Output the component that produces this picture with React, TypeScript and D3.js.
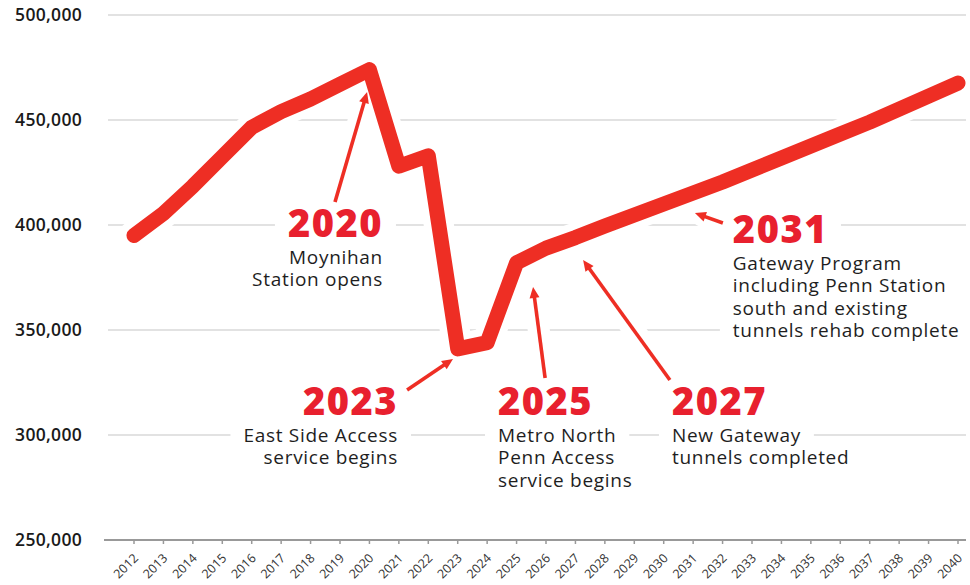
import React from 'react';
import * as d3 from 'd3';

// ---- data ----
const years = [2012, 2013, 2014, 2015, 2016, 2017, 2018, 2019, 2020, 2021, 2022, 2023, 2024, 2025, 2026, 2027, 2028, 2029, 2030, 2031, 2032, 2033, 2034, 2035, 2036, 2037, 2038, 2039, 2040];
const ridership = [395000, 405500, 418500, 432500, 446500, 454000, 460000, 467000, 474000, 428000, 433000, 341000, 344000, 382000, 389000, 394000, 399500, 404800, 410000, 415200, 420500, 426200, 431900, 437600, 443300, 449000, 455200, 461400, 467600];
const yTicks = [250000, 300000, 350000, 400000, 450000, 500000];

const annoTitles = ['2020', '2023', '2025', '2027', '2031'];
const annoLines = [
  ['Moynihan', 'Station opens'],
  ['East Side Access', 'service begins'],
  ['Metro North', 'Penn Access', 'service begins'],
  ['New Gateway', 'tunnels completed'],
  ['Gateway Program', 'including Penn Station', 'south and existing', 'tunnels rehab complete'],
];
// annotation text anchors in data space (year, riders)
const annoAnchorYear = [2020.46, 2020.97, 2024.37, 2030.28, 2032.35];
const annoAnchorValue = [394300, 309500, 309500, 309500, 391400];
const annoAlign = ['end', 'end', 'start', 'start', 'start'];
// arrows in data space
const arrowFromYear = [2018.83, 2021.28, 2025.97, 2030.21, 2032.01];
const arrowFromValue = [410950, 321430, 327140, 326190, 400950];
const arrowToYear = [2019.92, 2022.84, 2025.56, 2027.26, 2031.06];
const arrowToValue = [463300, 336190, 370480, 383330, 405710];

const RED = '#ee2e24';
const TITLE_RED = '#e8202e';
const FONT = "'Open Sans', 'Noto Sans', sans-serif";
const TITLE_SIZE = 38, TITLE_LS = 1.5;
const SUB_SIZE = 19, SUB_LS = 0.7;
const FIRST_GAP = 27, LINE_GAP = 22.4;

let measureCtx: CanvasRenderingContext2D | null = null;
function textWidth(s: string, font: string, ls: number) {
  if (!measureCtx) measureCtx = document.createElement('canvas').getContext('2d');
  if (!measureCtx) return s.length * 10;
  measureCtx.font = font;
  return measureCtx.measureText(s).width + ls * s.length;
}

function arrowParts(x1: number, y1: number, x2: number, y2: number) {
  const dx = x2 - x1, dy = y2 - y1;
  const len = Math.hypot(dx, dy);
  const ux = dx / len, uy = dy / len;
  const nx = -uy, ny = ux;
  const hl = 11, hw = 5;
  const bx = x2 - ux * hl, by = y2 - uy * hl;
  const lx = x2 - ux * hl * 0.7, ly = y2 - uy * hl * 0.7;
  const pts = `${x2},${y2} ${bx + nx * hw},${by + ny * hw} ${bx - nx * hw},${by - ny * hw}`;
  return { lx, ly, pts };
}

export default function App() {
  const W = 970, H = 585;
  const x = d3.scaleLinear().domain([2012, 2040]).range([134, 958]);
  const y = d3.scaleLinear().domain([250000, 500000]).range([540, 15]);
  const pts: [number, number][] = years.map((yr, i) => [yr, ridership[i]]);
  const lineGen = d3.line<[number, number]>().x(d => x(d[0])).y(d => y(d[1])).curve(d3.curveLinear);
  const path = lineGen(pts) || '';
  const fmt = d3.format(',');

  const arrows = annoTitles.map((t, i) => {
    const x1 = x(arrowFromYear[i]), y1 = y(arrowFromValue[i]);
    const x2 = x(arrowToYear[i]), y2 = y(arrowToValue[i]);
    return { t, x1, y1, x2, y2, ...arrowParts(x1, y1, x2, y2) };
  });

  const blocks = annoTitles.map((t, i) => {
    const ax = x(annoAnchorYear[i]);
    const ay = y(annoAnchorValue[i]);
    const end = annoAlign[i] === 'end';
    const rows: { s: string; y: number; title: boolean; w: number }[] = [];
    rows.push({ s: t, y: ay, title: true, w: textWidth(t, `800 ${TITLE_SIZE}px ${FONT}`, TITLE_LS) });
    annoLines[i].forEach((s, j) => rows.push({
      s, y: ay + FIRST_GAP + j * LINE_GAP, title: false, w: textWidth(s, `400 ${SUB_SIZE}px ${FONT}`, SUB_LS),
    }));
    return { t, ax, ay, end, rows };
  });
  const PAD = 13;

  return (
    <svg width={W} height={H} viewBox={`0 0 ${W} ${H}`}
      style={{ position: 'absolute', left: 0, top: 0, background: '#fff' }}>
      <rect x={0} y={0} width={W} height={H} fill="#fff" />
      {/* gridlines */}
      {yTicks.filter(v => v !== 250000).map(v => (
        <line key={v} x1={108} x2={966} y1={y(v)} y2={y(v)} stroke="#d9d9d9" strokeWidth={1.5} />
      ))}
      {/* y labels */}
      {yTicks.map(v => (
        <text key={v} x={82} y={y(v)} dy="0.36em" textAnchor="end" fontFamily={FONT} fontWeight={600}
          fontSize={17.5} letterSpacing={0.3} fill="#1a1a1a">{fmt(v)}</text>
      ))}
      {/* x axis */}
      <line x1={104} x2={966} y1={y(250000)} y2={y(250000)} stroke="#999" strokeWidth={2} />
      {years.map(yr => (
        <g key={yr}>
          <line x1={x(yr)} x2={x(yr)} y1={y(250000)} y2={y(250000) + 4} stroke="#999" strokeWidth={1.5} />
          <text transform={`translate(${x(yr) + 5},${y(250000) + 19}) rotate(-45)`} textAnchor="end"
            fontFamily={FONT} fontSize={12.5} fill="#333">{yr}</text>
        </g>
      ))}
      {/* halos for arrows and line */}
      {arrows.map(a => (
        <line key={'h' + a.t} x1={a.x1} y1={a.y1} x2={a.lx} y2={a.ly} stroke="#fff" strokeWidth={22} strokeLinecap="round" />
      ))}
      <path d={path} fill="none" stroke="#fff" strokeWidth={30} strokeLinejoin="round" strokeLinecap="round" />
      {/* white boxes behind annotation lines */}
      {blocks.map(b => (
        <g key={'bg' + b.t}>
          {b.rows.map((r, k) => {
            const left = b.end ? b.ax - r.w : b.ax;
            const top = r.title ? r.y - 29 : r.y - 15;
            const bottom = r.title ? r.y + 3 : r.y + 6;
            return <rect key={k} x={left - PAD} y={top} width={r.w + 2 * PAD} height={bottom - top} fill="#fff" />;
          })}
        </g>
      ))}
      {/* annotation text: one text element per annotation */}
      {blocks.map(b => (
        <text key={b.t} x={b.ax} y={b.ay} textAnchor={b.end ? 'end' : 'start'} fontFamily={FONT}>
          {b.rows.map((r, k) => r.title ? (
            <tspan key={k} x={b.ax} y={r.y} fontWeight={800} fontSize={TITLE_SIZE}
              letterSpacing={TITLE_LS} fill={TITLE_RED}>{r.s}</tspan>
          ) : (
            <tspan key={k} x={b.ax} y={r.y} fontWeight={400} fontSize={SUB_SIZE} letterSpacing={SUB_LS}
              fill="#1e1e1e">{r.s}</tspan>
          ))}
        </text>
      ))}
      {/* main line */}
      <path d={path} fill="none" stroke={RED} strokeWidth={15} strokeLinejoin="round" strokeLinecap="round" />
      {/* arrows */}
      {arrows.map(a => (
        <g key={'a' + a.t}>
          <line x1={a.x1} y1={a.y1} x2={a.lx} y2={a.ly} stroke={RED} strokeWidth={3.6} />
          <polygon points={a.pts} fill={RED} />
        </g>
      ))}
    </svg>
  );
}
